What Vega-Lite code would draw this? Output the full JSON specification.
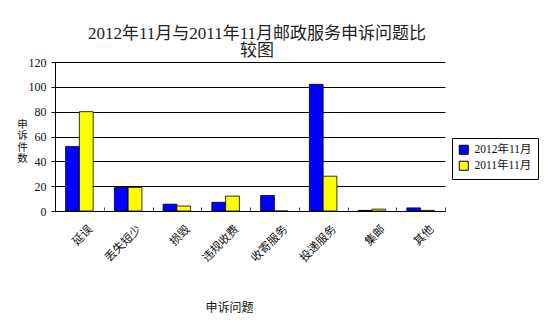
{
  "$schema": "https://vega.github.io/schema/vega-lite/v6.json",
  "width": 390,
  "height": 149,
  "autosize": "none",
  "padding": {"left": 55, "top": 62, "right": 105, "bottom": 114},
  "background": "white",
  "title": {
    "text": ["2012年11月与2011年11月邮政服务申诉问题比", "较图"],
    "font": "Liberation Serif, Noto Sans CJK SC",
    "fontSize": 17,
    "fontWeight": "normal",
    "color": "#222222",
    "lineHeight": 17,
    "anchor": "middle",
    "dx": 7,
    "dy": 4,
    "offset": 0
  },
  "data": {
    "values": [
      {"问题": "延误", "年份": "2012年11月", "件数": 52},
      {"问题": "延误", "年份": "2011年11月", "件数": 80},
      {"问题": "丢失短少", "年份": "2012年11月", "件数": 19},
      {"问题": "丢失短少", "年份": "2011年11月", "件数": 19},
      {"问题": "损毁", "年份": "2012年11月", "件数": 5.5},
      {"问题": "损毁", "年份": "2011年11月", "件数": 4},
      {"问题": "违规收费", "年份": "2012年11月", "件数": 7},
      {"问题": "违规收费", "年份": "2011年11月", "件数": 12},
      {"问题": "收寄服务", "年份": "2012年11月", "件数": 12.5},
      {"问题": "收寄服务", "年份": "2011年11月", "件数": 0},
      {"问题": "投递服务", "年份": "2012年11月", "件数": 102},
      {"问题": "投递服务", "年份": "2011年11月", "件数": 28},
      {"问题": "集邮", "年份": "2012年11月", "件数": 0.5},
      {"问题": "集邮", "年份": "2011年11月", "件数": 1.5},
      {"问题": "其他", "年份": "2012年11月", "件数": 2.5},
      {"问题": "其他", "年份": "2011年11月", "件数": 0.5}
    ]
  },
  "mark": {"type": "bar", "stroke": "black", "strokeWidth": 0.8},
  "encoding": {
    "x": {
      "field": "问题",
      "type": "nominal",
      "sort": ["延误", "丢失短少", "损毁", "违规收费", "收寄服务", "投递服务", "集邮", "其他"],
      "scale": {"paddingInner": 0, "paddingOuter": 0},
      "axis": {
        "title": "申诉问题",
        "titleFont": "Noto Sans CJK SC",
        "titleFontSize": 12,
        "titleFontWeight": "normal",
        "titleColor": "#111111",
        "titleX": 174,
        "titleY": 96,
        "titleBaseline": "middle",
        "labelAngle": -45,
        "labelFont": "Noto Sans CJK SC",
        "labelFontSize": 11.5,
        "labelColor": "#111111",
        "labelPadding": 16,
        "labelOffset": 7,
        "tickBand": "extent",
        "tickSize": -4,
        "tickColor": "#555555",
        "domainColor": "black",
        "grid": false
      }
    },
    "xOffset": {
      "field": "年份",
      "sort": ["2012年11月", "2011年11月"],
      "scale": {"paddingOuter": 0.77, "paddingInner": 0}
    },
    "y": {
      "field": "件数",
      "type": "quantitative",
      "scale": {"domain": [0, 120], "nice": false},
      "axis": {
        "values": [0, 20, 40, 60, 80, 100, 120],
        "title": ["申", "诉", "件", "数"],
        "titleFont": "Noto Sans CJK SC",
        "titleFontSize": 10.5,
        "titleFontWeight": "normal",
        "titleColor": "#111111",
        "titleAngle": 0,
        "titleX": -33,
        "titleY": 57,
        "titleAlign": "center",
        "titleBaseline": "top",
        "titleLineHeight": 11.5,
        "labelFont": "Liberation Serif",
        "labelFontSize": 12,
        "labelColor": "#111111",
        "labelPadding": 5,
        "tickSize": 4,
        "tickColor": "black",
        "domainColor": "black",
        "grid": true,
        "gridColor": "black",
        "gridOpacity": 1
      }
    },
    "color": {
      "field": "年份",
      "type": "nominal",
      "scale": {"domain": ["2012年11月", "2011年11月"], "range": ["#0000FF", "#FFFF00"]},
      "legend": {
        "title": null,
        "orient": "none",
        "legendX": 397,
        "legendY": 76,
        "padding": 6,
        "strokeColor": "black",
        "fillColor": "white",
        "symbolType": "square",
        "symbolSize": 81,
        "symbolStrokeColor": "black",
        "symbolStrokeWidth": 1,
        "labelFont": "Liberation Serif, Noto Sans CJK SC",
        "labelFontSize": 11.5,
        "labelOffset": 5,
        "labelColor": "#111111",
        "rowPadding": 2
      }
    }
  },
  "config": {"view": {"stroke": null}}
}
